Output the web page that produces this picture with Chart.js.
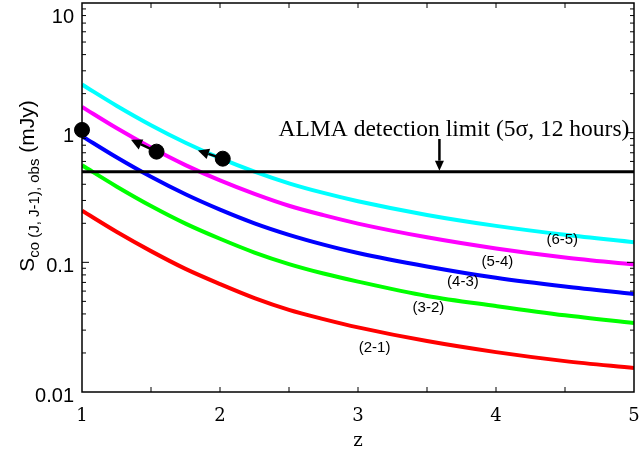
<!DOCTYPE html>
<html><head><meta charset="utf-8">
<script src="https://cdn.jsdelivr.net/npm/chart.js@4"></script>
<style>html,body{margin:0;padding:0;background:#fff}#wrap{width:643px;height:453px}</style>
</head><body><div id="wrap"><canvas id="c" width="643" height="453"></canvas></div>
<script>
// ---- data ----
const redshift = [1, 1.25, 1.5, 1.75, 2, 2.25, 2.5, 2.75, 3, 3.5, 4, 4.5, 5];
const co65 = [2.35, 1.614, 1.142, 0.837, 0.637, 0.501, 0.407, 0.343, 0.296, 0.232, 0.191, 0.163, 0.143];
const co54 = [1.58, 1.085, 0.768, 0.562, 0.428, 0.337, 0.273, 0.231, 0.199, 0.156, 0.128, 0.109, 0.096];
const co43 = [0.94, 0.646, 0.457, 0.335, 0.255, 0.200, 0.163, 0.137, 0.118, 0.093, 0.076, 0.065, 0.057];
const co32 = [0.56, 0.385, 0.272, 0.199, 0.152, 0.119, 0.097, 0.082, 0.071, 0.055, 0.046, 0.039, 0.034];
const co21 = [0.25, 0.172, 0.122, 0.089, 0.068, 0.053, 0.043, 0.0365, 0.0315, 0.0247, 0.0203, 0.0173, 0.0153];
const obsZ = [1.0, 1.54, 2.02];
const obsFlux = [1.05, 0.714, 0.63];
const arrowEndZ = [null, 1.355, 1.84];
const arrowEndFlux = [null, 0.88, 0.73];
const almaLimit = 0.5;
const almaArrowZ = 3.59;
const almaText = 'ALMA detection limit (5\u03c3, 12 hours)';
const xTickValues = [1, 2, 3, 4, 5];
const yTickValues = [0.01, 0.1, 1, 10];
const yTickLabels = ['0.01', '0.1', '1', '10'];
const curveLabels = ['(6-5)', '(5-4)', '(4-3)', '(3-2)', '(2-1)'];
const curveLabelZ = [4.48, 4.01, 3.76, 3.51, 3.12];
const curveLabelFlux = [0.148, 0.100, 0.0702, 0.0443, 0.0218];

const pts = arr => redshift.map((z, i) => ({x: z, y: arr[i]}));

const overlay = {
  id: 'overlay',
  afterDraw(chart) {
    const ctx = chart.ctx, xs = chart.scales.x, ys = chart.scales.y, a = chart.chartArea;
    ctx.save();
    // box
    ctx.strokeStyle = '#000'; ctx.lineWidth = 1.5;
    ctx.strokeRect(a.left, a.top, a.right - a.left, a.bottom - a.top);
    // x ticks inward every 0.5
    ctx.lineWidth = 1;
    for (let v = 1.5; v < 5; v += 0.5) {
      const px = xs.getPixelForValue(v);
      ctx.beginPath();
      ctx.moveTo(px, a.bottom); ctx.lineTo(px, a.bottom - 5);
      ctx.moveTo(px, a.top); ctx.lineTo(px, a.top + 5);
      ctx.stroke();
    }
    // y ticks (log)
    for (let d = 0.01; d < 10; d *= 10) {
      for (let m = 1; m <= 9; m++) {
        const v = d * m;
        if (v <= 0.0100001) continue;
        const py = ys.getPixelForValue(v);
        const len = m === 1 ? 7 : 4;
        ctx.beginPath();
        ctx.moveTo(a.left, py); ctx.lineTo(a.left + len, py);
        ctx.moveTo(a.right, py); ctx.lineTo(a.right - len, py);
        ctx.stroke();
      }
    }
    // y tick labels
    ctx.fillStyle = '#000';
    ctx.font = '20px "Liberation Sans", Arial, sans-serif';
    ctx.textAlign = 'right'; ctx.textBaseline = 'middle';
    yTickValues.forEach((v, i) => {
      let py = ys.getPixelForValue(v);
      if (v === 10) py += 14; else py += 4;
      ctx.fillText(yTickLabels[i], 74, py);
    });
    // y title
    ctx.save();
    ctx.translate(34, 186);
    ctx.rotate(-Math.PI / 2);
    const big = '21px "Liberation Sans", Arial, sans-serif';
    const small = '15px "Liberation Sans", Arial, sans-serif';
    const parts = [['S', big, 0], ['co (J, J-1), obs', small, 5], [' (mJy)', big, 0]];
    let total = 0;
    parts.forEach(p => { ctx.font = p[1]; total += ctx.measureText(p[0]).width; });
    let cx = -total / 2;
    ctx.textAlign = 'left'; ctx.textBaseline = 'alphabetic';
    parts.forEach(p => { ctx.font = p[1]; ctx.fillText(p[0], cx, p[2]); cx += ctx.measureText(p[0]).width; });
    ctx.restore();
    // arrows from obs points
    const arrow = (x1, y1, x2, y2, head, hw, lw) => {
      const ang = Math.atan2(y2 - y1, x2 - x1);
      const bx = x2 - head * Math.cos(ang), by = y2 - head * Math.sin(ang);
      ctx.lineWidth = lw;
      ctx.beginPath(); ctx.moveTo(x1, y1); ctx.lineTo(bx, by); ctx.stroke();
      ctx.beginPath();
      ctx.moveTo(x2, y2);
      ctx.lineTo(bx + hw * Math.sin(ang), by - hw * Math.cos(ang));
      ctx.lineTo(bx - hw * Math.sin(ang), by + hw * Math.cos(ang));
      ctx.closePath(); ctx.fill();
    };
    obsZ.forEach((z, i) => {
      if (arrowEndZ[i] === null) return;
      arrow(xs.getPixelForValue(z), ys.getPixelForValue(obsFlux[i]),
            xs.getPixelForValue(arrowEndZ[i]), ys.getPixelForValue(arrowEndFlux[i]), 11, 5.5, 2.5);
    });
    // ALMA annotation
    const ax = xs.getPixelForValue(almaArrowZ), ay = ys.getPixelForValue(almaLimit);
    arrow(ax, 139, ax, ay - 1, 10, 4.5, 2.5);
    ctx.font = '23.5px "Liberation Serif", "Times New Roman", serif';
    ctx.textAlign = 'center'; ctx.textBaseline = 'alphabetic';
    ctx.fillText(almaText, 454, 136);
    // curve labels
    ctx.font = '15px "Liberation Sans", Arial, sans-serif';
    ctx.textBaseline = 'middle';
    curveLabels.forEach((t, i) => {
      ctx.fillText(t, xs.getPixelForValue(curveLabelZ[i]), ys.getPixelForValue(curveLabelFlux[i]));
    });
    ctx.restore();
  }
};

const lineDs = (data, color) => ({
  type: 'line', data: pts(data), borderColor: color, backgroundColor: color,
  borderWidth: 4, pointRadius: 0, cubicInterpolationMode: 'monotone', fill: false
});

new Chart(document.getElementById('c'), {
  type: 'line',
  data: {
    datasets: [
      { type: 'scatter', data: obsZ.map((z, i) => ({x: z, y: obsFlux[i]})),
        backgroundColor: '#000', borderColor: '#000', pointRadius: 7.5, pointHoverRadius: 7.5, clip: false },
      { type: 'line', data: [{x: 1, y: almaLimit}, {x: 5, y: almaLimit}], borderColor: '#000',
        borderWidth: 3, pointRadius: 0 },
      lineDs(co65, '#00ffff'),
      lineDs(co54, '#ff00ff'),
      lineDs(co43, '#0000ff'),
      lineDs(co32, '#00ff00'),
      lineDs(co21, '#ff0000')
    ]
  },
  options: {
    responsive: false, animation: false, events: [],
    layout: { autoPadding: false, padding: { left: 0, right: 9, top: 3, bottom: 0 } },
    plugins: { legend: { display: false }, tooltip: { enabled: false } },
    scales: {
      x: {
        type: 'linear', min: 1, max: 5,
        grid: { display: false, drawTicks: false }, border: { display: false },
        afterBuildTicks: s => { s.ticks = xTickValues.map(v => ({value: v})); },
        ticks: { padding: 14, autoSkip: false, maxRotation: 0, color: '#000',
                 font: { family: '"DejaVu Serif", serif', size: 18 },
                 callback: v => String(v) },
        title: { display: true, text: 'z', color: '#000', padding: { top: 0, bottom: 1 },
                 font: { family: '"DejaVu Serif", serif', size: 18 } },
        afterFit: s => { s.height = 61; s.paddingLeft = 0; s.paddingRight = 0; }
      },
      y: {
        type: 'logarithmic', min: 0.01, max: 10,
        grid: { display: false, drawTicks: false }, border: { display: false },
        ticks: { display: false },
        afterFit: s => { s.width = 82; s.paddingTop = 0; s.paddingBottom = 0; }
      }
    }
  },
  plugins: [overlay]
});
</script></body></html>
